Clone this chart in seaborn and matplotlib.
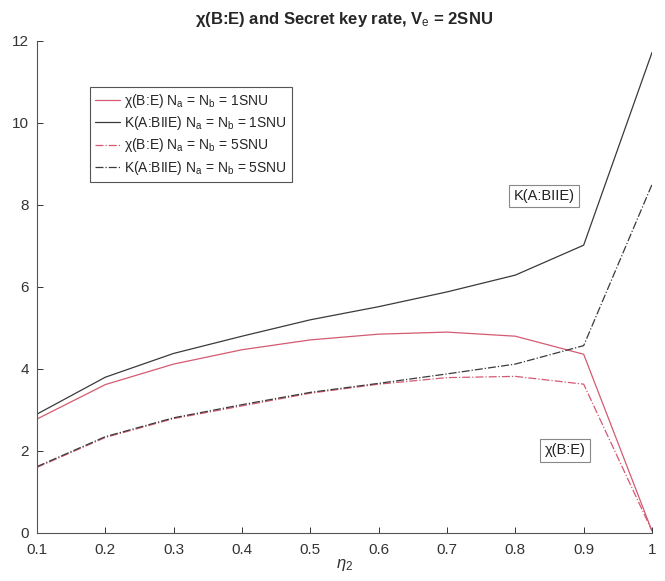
import numpy as np
import pandas as pd
import matplotlib
matplotlib.use("Agg")
import matplotlib.pyplot as plt
import seaborn as sns

# eta_2 values on the x axis
eta2 = [0.1, 0.2, 0.3, 0.4, 0.5, 0.6, 0.7, 0.8, 0.9, 1.0]

chi_1snu = [2.78, 3.62, 4.12, 4.47, 4.71, 4.85, 4.90, 4.80, 4.36, 0.05]
key_1snu = [2.90, 3.80, 4.38, 4.80, 5.20, 5.52, 5.88, 6.29, 7.02, 11.72]
chi_5snu = [1.60, 2.33, 2.79, 3.10, 3.41, 3.63, 3.79, 3.82, 3.63, 0.05]
key_5snu = [1.62, 2.35, 2.81, 3.13, 3.43, 3.65, 3.88, 4.12, 4.57, 8.50]

labels = [r"χ(B:E) N$_\mathrm{a}$ = N$_\mathrm{b}$ = 1SNU",
          r"K(A:BIIE) N$_\mathrm{a}$ = N$_\mathrm{b}$ = 1SNU",
          r"χ(B:E) N$_\mathrm{a}$ = N$_\mathrm{b}$ = 5SNU",
          r"K(A:BIIE) N$_\mathrm{a}$ = N$_\mathrm{b}$ = 5SNU"]

sns.set_style("ticks")
plt.rcParams["font.family"] = ["Liberation Sans", "DejaVu Sans"]
plt.rcParams["mathtext.fontset"] = "custom"
plt.rcParams["mathtext.rm"] = "Liberation Sans"
plt.rcParams["mathtext.it"] = "Liberation Sans:italic"
plt.rcParams["xtick.direction"] = "in"
plt.rcParams["ytick.direction"] = "in"

pink = "#d45a72"
dark = "#3a3a3a"
styles = [(pink, "-"), (dark, "-"), (pink, "-."), (dark, "-.")]

fig = plt.figure(figsize=(6.65, 5.81), dpi=100)
ax = fig.add_axes([37 / 665, 48 / 581, 615 / 665, 492 / 581])

for vals, lab, (col, ls) in zip([chi_1snu, key_1snu, chi_5snu, key_5snu], labels, styles):
    df = pd.DataFrame({"eta": eta2, "val": vals})
    sns.lineplot(data=df, x="eta", y="val", ax=ax, color=col, linestyle=ls,
                 linewidth=0.9, label=lab)

ax.set_xlim(0.1, 1.0)
ax.set_ylim(0, 12)
ax.set_xticks(np.arange(0.1, 1.01, 0.1))
ax.set_xticklabels(["0.1", "0.2", "0.3", "0.4", "0.5", "0.6", "0.7", "0.8", "0.9", "1"])
ax.set_yticks(range(0, 13, 2))
ax.tick_params(labelsize=11, colors="#333333", length=4, width=0.7)
ax.tick_params(axis="x", pad=7)
ax.tick_params(axis="y", pad=6)
for s in ["top", "right"]:
    ax.spines[s].set_visible(False)
for s in ["left", "bottom"]:
    ax.spines[s].set_color("#555555")
    ax.spines[s].set_linewidth(0.8)

ax.set_xlabel(r"$\eta_2$", fontsize=12, color="#333333", labelpad=0)
ax.set_ylabel("")
ax.set_title(r"χ(B:E) and Secret key rate, V$_\mathrm{e}$ = 2SNU",
             fontsize=12, fontweight="bold", pad=12)

leg = ax.legend(loc="upper left", bbox_to_anchor=(0.075, 0.92), fontsize=10,
                handlelength=1.8, handletextpad=0.3, borderpad=0.35,
                labelspacing=0.3, fancybox=False, framealpha=1,
                edgecolor="#555555")
leg.get_frame().set_linewidth(0.8)

box = dict(boxstyle="square,pad=0.3", fc="white", ec="#888888", lw=0.8)
ax.text(0.842, 8.22, "K(A:BIIE)", ha="center", va="center", fontsize=10.5,
        color="#222222", bbox=box)
ax.text(0.873, 2.02, "χ(B:E)", ha="center", va="center", fontsize=10.5,
        color="#222222", bbox=box)

fig.savefig("out.png", dpi=100)
